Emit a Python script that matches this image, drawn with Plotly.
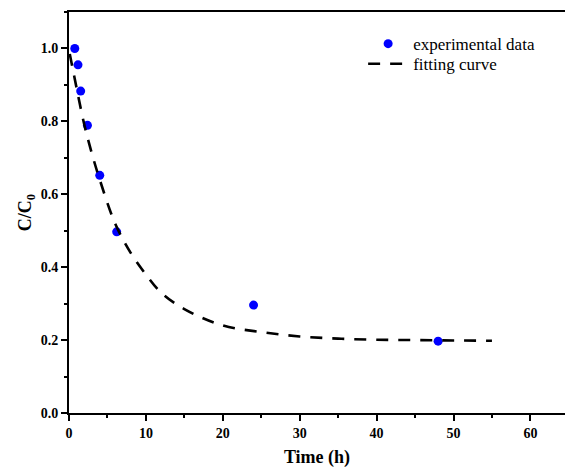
import plotly.graph_objects as go

# experimental data
time_exp = [0.75, 1.17, 1.52, 2.4, 4.0, 6.2, 24.0, 48.0]
c_exp = [1.0, 0.955, 0.883, 0.789, 0.652, 0.497, 0.296, 0.197]

# fitting curve
time_fit = [0.1, 1, 2, 3, 4, 6, 8, 10, 12, 15, 20, 25, 30, 35, 40, 45, 50, 55]
c_fit = [0.985, 0.89, 0.79, 0.71, 0.64, 0.52, 0.44, 0.38, 0.33, 0.285, 0.24, 0.222,
         0.21, 0.204, 0.201, 0.2, 0.199, 0.198]

x_ticks = [0, 10, 20, 30, 40, 50, 60]
y_ticks = [0.0, 0.2, 0.4, 0.6, 0.8, 1.0]

font_family = "Liberation Serif, Times New Roman, serif"

fig = go.Figure()
fig.add_trace(go.Scatter(
    x=time_exp, y=c_exp, mode="markers", name="experimental data",
    marker=dict(color="#0000ff", size=9, line=dict(width=0)),
    legend="legend",
))
fig.add_trace(go.Scatter(
    x=time_fit, y=c_fit, mode="lines", name="fitting curve",
    line=dict(color="black", width=2.6, dash="12px,10px", shape="spline"),
    legend="legend2",
))

legend_common = dict(
    xanchor="left", yanchor="middle",
    bgcolor="rgba(0,0,0,0)", font=dict(size=17, family=font_family),
    itemwidth=40,
)

fig.update_layout(
    width=565, height=468,
    margin=dict(l=69, r=0, t=12, b=55, autoexpand=False),
    paper_bgcolor="white", plot_bgcolor="white",
    font=dict(family=font_family, color="black"),
    showlegend=True,
    legend=dict(x=0.593, y=0.920, **legend_common),
    legend2=dict(x=0.593, y=0.870, **legend_common),
    xaxis=dict(
        range=[0, 64.5], tickvals=x_ticks, ticktext=[str(v) for v in x_ticks],
        showline=True, linecolor="black", linewidth=2, mirror=True,
        ticks="outside", ticklen=6, tickwidth=2, tickcolor="black",
        minor=dict(dtick=5, ticks="outside", ticklen=3, tickwidth=2, tickcolor="black", showgrid=False),
        showgrid=False, zeroline=False, automargin=False,
        tickfont=dict(size=14, family=font_family, weight="bold"),
        title=dict(text="Time (h)", font=dict(size=18, family=font_family, weight="bold"), standoff=14),
    ),
    yaxis=dict(
        range=[0, 1.1], tickvals=y_ticks, ticktext=["%.1f" % v for v in y_ticks],
        showline=True, linecolor="black", linewidth=2,
        ticks="outside", ticklen=6, tickwidth=2, tickcolor="black",
        minor=dict(dtick=0.1, ticks="outside", ticklen=3, tickwidth=2, tickcolor="black", showgrid=False),
        showgrid=False, zeroline=False, automargin=False,
        tickfont=dict(size=14, family=font_family, weight="bold"),
        title=dict(text="C/C<sub>0</sub>", font=dict(size=18, family=font_family, weight="bold"), standoff=4),
    ),
)

fig.write_html(
    "out.html",
    config={"displayModeBar": False},
    post_script="document.body.style.margin='0';document.body.style.padding='0';document.body.style.overflow='hidden';",
)
